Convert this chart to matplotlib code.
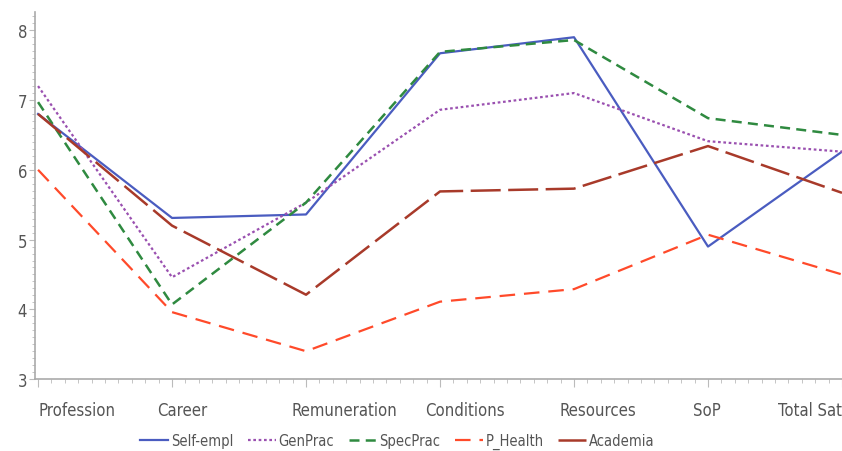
import numpy as np
import matplotlib
matplotlib.use("Agg")
import matplotlib.pyplot as plt
from matplotlib.ticker import MultipleLocator
from matplotlib.transforms import ScaledTranslation

# categories on the x axis
categories = ["Profession", "Career", "Remuneration", "Conditions",
              "Resources", "SoP", "Total Sat"]

# mean scores per group
self_empl = [6.80, 5.31, 5.36, 7.67, 7.90, 4.90, 6.26]
gen_prac = [7.20, 4.46, 5.53, 6.86, 7.10, 6.41, 6.26]
spec_prac = [6.97, 4.07, 5.53, 7.69, 7.86, 6.74, 6.50]
p_health = [6.00, 3.96, 3.40, 4.11, 4.29, 5.07, 4.50]
academia = [6.80, 5.20, 4.21, 5.69, 5.73, 6.34, 5.67]

series = [
    ("Self-empl", self_empl, "#4a5cc0", "-", 1.6),
    ("GenPrac", gen_prac, "#9a50b0", (0, (1.2, 1.2)), 1.6),
    ("SpecPrac", spec_prac, "#2f8a40", (0, (4, 2.5)), 1.8),
    ("P_Health", p_health, "#ff4a2a", (0, (7, 4)), 1.6),
    ("Academia", academia, "#a83a2a", (0, (12, 3)), 1.8),
]

plt.rcParams['font.family'] = ['DejaVu Sans']
plt.rcParams['font.stretch'] = 'condensed'
text_col = "#555555"

fig = plt.figure(figsize=(8.42, 4.52), dpi=100)
ax = fig.add_axes([0.042, 0.159, 0.958, 0.812])

x = np.arange(len(categories))
for name, vals, col, ls, lw in series:
    ax.plot(x, vals, color=col, linestyle=ls, linewidth=lw, label=name)

ax.set_xlim(-0.02, 6.0)
ax.set_ylim(3, 8.26)

# spines and ticks
for s in ["top", "right"]:
    ax.spines[s].set_visible(False)
for s in ["left", "bottom"]:
    ax.spines[s].set_color("#aaaaaa")
    ax.spines[s].set_linewidth(1.2)

ax.set_xticks(x)
ax.set_xticklabels(categories)
ax.xaxis.set_minor_locator(MultipleLocator(0.1))
ax.yaxis.set_major_locator(MultipleLocator(1))
ax.yaxis.set_minor_locator(MultipleLocator(0.1))
ax.tick_params(axis="both", which="both", colors="#bbbbbb", labelcolor=text_col,
               labelsize=12)
ax.tick_params(axis="x", which="major", length=6, pad=10)
ax.tick_params(axis="x", which="minor", length=3)
ax.tick_params(axis="y", which="major", length=4, pad=2)
ax.tick_params(axis="y", which="minor", length=2)

# labels sit roughly left-aligned to their tick; the last one ends at the edge
labels = ax.get_xticklabels()
for i, lab in enumerate(labels):
    if i == len(labels) - 1:
        lab.set_horizontalalignment("right")
        continue
    lab.set_horizontalalignment("left")
    shift = 0 if i == 0 else -15
    lab.set_transform(lab.get_transform() + ScaledTranslation(shift / 100, 0, fig.dpi_scale_trans))

leg = fig.legend(loc="center", bbox_to_anchor=(0.472, 0.022), ncol=5, frameon=False,
                 fontsize=10.5, handlelength=1.9, columnspacing=1.0, handletextpad=0.2)
for t in leg.get_texts():
    t.set_color(text_col)

fig.savefig("out.png", dpi=100)
